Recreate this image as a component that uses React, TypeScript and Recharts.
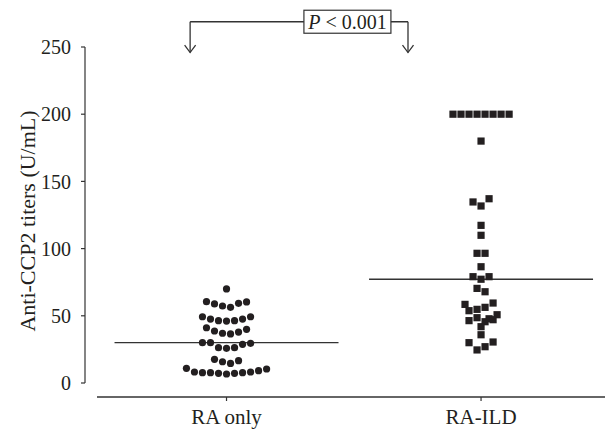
import React from 'react';
import {
  ScatterChart,
  Scatter,
  XAxis,
  YAxis,
  ReferenceLine,
  ReferenceDot,
  Label,
} from 'recharts';

// ---- Data ----
const categories = ['RA only', 'RA-ILD'];
const yTicks = [0, 50, 100, 150, 200, 250];

// Anti-CCP2 titers, RA only group (circles)
const raOnlyValues = [
  70,
  60.5, 58.8, 57.3, 56.3, 59.3, 60.3,
  49.3, 47.6, 46.4, 46.1, 46.4, 47.6, 49.3,
  41.1, 38.7, 37.0, 36.5, 37.9, 39.9,
  30.0, 30.0, 26.3, 25.8, 26.3, 28.8, 29.5,
  17.6, 15.8, 14.6, 16.6,
  10.9, 8.2, 7.7, 7.7, 7.2, 6.7, 7.2, 7.7, 8.2, 9.2, 10.4,
];
// horizontal scatter-dot slot of each point (beeswarm column)
const raOnlyJitter = [
  0,
  -2.5, -1.5, -0.5, 0.5, 1.5, 2.5,
  -3, -2, -1, 0, 1, 2, 3,
  -2.5, -1.5, -0.5, 0.5, 1.5, 2.5,
  -3, -2, -1, 0, 1, 2, 3,
  -1.5, -0.5, 0.5, 1.5,
  -5, -4, -3, -2, -1, 0, 1, 2, 3, 4, 5,
];

// Anti-CCP2 titers, RA-ILD group (squares)
const raIldValues = [
  200, 200, 200, 200, 200, 200, 200, 200,
  180,
  134.7, 131.7, 137.1,
  117.3,
  109.9,
  96.5, 96.5,
  86.5,
  79.1, 77.2, 79.1,
  70.4, 67.9,
  58.5, 59.5,
  53.8, 54.8, 56.3,
  50.8,
  46.4, 48.6, 45.6, 47.8, 47.1,
  41.9,
  35.9,
  30.0, 30.5,
  27.0,
  24.6,
];
const raIldJitter = [
  -3.5, -2.5, -1.5, -0.5, 0.5, 1.5, 2.5, 3.5,
  0,
  -1, 0, 1,
  0,
  0,
  -0.5, 0.5,
  0,
  -1, 0, 1,
  -0.5, 0.5,
  -2, 1.5,
  -1.5, -0.5, 0.5,
  2,
  -1.5, -0.5, 0.5, 1, 1.5,
  0,
  0,
  -1.5, 1.5,
  0.5,
  -0.5,
];

// significance annotation
const pLabel = '< 0.001';

// ---- layout constants (category units) ----
const SLOT = 0.0315;
const X_DOMAIN: [number, number] = [0.444, 2.487];
const MEDIAN_HALF = 0.44;
const BRACKET_Y = 268.8;
const ARROW_TIP_Y = 245.9;
const BRACKET_LEFT = 0.857;
const BRACKET_RIGHT = 1.713;
const P_BOX_X = 1.475;
const X_AXIS_Y = -10.4;
const X_AXIS_START = 0.491;

const INK = '#231f20';
const LINE = '#333333';
const FONT = '"Liberation Serif", "Times New Roman", Times, serif';

const median = (arr: number[]) => {
  const s = [...arr].sort((a, b) => a - b);
  const m = Math.floor(s.length / 2);
  return s.length % 2 ? s[m] : (s[m - 1] + s[m]) / 2;
};

const raOnlyData = raOnlyValues.map((v, i) => ({ x: 1 + raOnlyJitter[i] * SLOT, y: v }));
const raIldData = raIldValues.map((v, i) => ({ x: 2 + raIldJitter[i] * SLOT, y: v }));
const raOnlyMedian = median(raOnlyValues);
const raIldMedian = median(raIldValues);

const CircleShape = (props: any) => (
  <circle cx={props.cx} cy={props.cy} r={3.6} fill={INK} />
);
const SquareShape = (props: any) => (
  <rect x={props.cx - 3.6} y={props.cy - 3.6} width={7.2} height={7.2} fill={INK} />
);

const XTick = (props: any) => {
  const { x, y, payload } = props;
  return (
    <g>
      <line x1={x} x2={x} y1={y + 14} y2={y + 18} stroke={LINE} strokeWidth={1.2} />
      <text x={x} y={y + 41} textAnchor="middle" fontFamily={FONT} fontSize={21} fill={INK}>
        {categories[payload.value - 1]}
      </text>
    </g>
  );
};

const ArrowShape = (props: any) => {
  const { x1, y1, x2, y2 } = props;
  const tipY = Math.max(y1, y2);
  const x = x1;
  return (
    <g>
      <line x1={x1} y1={y1} x2={x2} y2={y2} stroke={LINE} strokeWidth={1.3} />
      <polyline
        points={`${x - 5.5},${tipY - 7.5} ${x},${tipY} ${x + 5.5},${tipY - 7.5}`}
        fill="none"
        stroke={LINE}
        strokeWidth={1.3}
      />
    </g>
  );
};

const PBoxShape = (props: any) => {
  const { cx, cy } = props;
  return (
    <g>
      <rect x={cx - 43.5} y={cy - 11.5} width={87} height={23} fill="#ffffff" stroke={LINE} strokeWidth={1.2} />
      <text x={cx} y={cy + 7} textAnchor="middle" fontFamily={FONT} fontSize={20} fill={INK}>
        <tspan fontStyle="italic">P</tspan> {pLabel}
      </text>
    </g>
  );
};

const YLabel = (props: any) => {
  const vb = props.viewBox || { x: 0, y: 47, width: 85, height: 336 };
  const x = vb.x + 35;
  const y = vb.y + vb.height / 2 + 6;
  return (
    <text
      x={x}
      y={y}
      transform={`rotate(-90, ${x}, ${y})`}
      textAnchor="middle"
      fontFamily={FONT}
      fontSize={22}
      fill={INK}
    >
      Anti-CCP2 titers (U/mL)
    </text>
  );
};

export default function App() {
  return (
    <div style={{ position: 'absolute', left: 0, top: 0, width: 605, height: 431, background: '#fff' }}>
      <ScatterChart width={605} height={431} margin={{ top: 47, right: 0, bottom: 0, left: 0 }}>
        <XAxis
          type="number"
          dataKey="x"
          domain={X_DOMAIN}
          ticks={[1, 2]}
          allowDataOverflow
          axisLine={false}
          tickLine={false}
          tickSize={0}
          tickMargin={0}
          height={48}
          tick={<XTick />}
          interval={0}
        />
        <YAxis
          type="number"
          dataKey="y"
          domain={[0, 250]}
          ticks={yTicks}
          allowDataOverflow
          width={85}
          axisLine={{ stroke: LINE, strokeWidth: 1.2 }}
          tickLine={{ stroke: LINE, strokeWidth: 1.2 }}
          tickSize={4}
          tickMargin={10}
          tick={{ fontFamily: FONT, fontSize: 20, fill: INK }}
          interval={0}
        >
          <Label content={<YLabel />} />
        </YAxis>

        {/* x axis line (offset below zero, Prism style) */}
        <ReferenceLine
          segment={[{ x: X_AXIS_START, y: X_AXIS_Y }, { x: X_DOMAIN[1], y: X_AXIS_Y }]}
          stroke={LINE}
          strokeWidth={1.3}
          ifOverflow="visible"
        />

        {/* medians */}
        <ReferenceLine
          segment={[{ x: 1 - MEDIAN_HALF, y: raOnlyMedian }, { x: 1 + MEDIAN_HALF, y: raOnlyMedian }]}
          stroke={LINE}
          strokeWidth={1.3}
          ifOverflow="visible"
        />
        <ReferenceLine
          segment={[{ x: 2 - MEDIAN_HALF, y: raIldMedian }, { x: 2 + MEDIAN_HALF, y: raIldMedian }]}
          stroke={LINE}
          strokeWidth={1.3}
          ifOverflow="visible"
        />

        <Scatter data={raOnlyData} shape={<CircleShape />} isAnimationActive={false} />
        <Scatter data={raIldData} shape={<SquareShape />} isAnimationActive={false} />

        {/* significance bracket */}
        <ReferenceLine
          segment={[{ x: BRACKET_LEFT, y: BRACKET_Y }, { x: BRACKET_RIGHT, y: BRACKET_Y }]}
          stroke={LINE}
          strokeWidth={1.3}
          ifOverflow="visible"
        />
        <ReferenceLine
          segment={[{ x: BRACKET_LEFT, y: BRACKET_Y }, { x: BRACKET_LEFT, y: ARROW_TIP_Y }]}
          shape={<ArrowShape />}
          ifOverflow="visible"
        />
        <ReferenceLine
          segment={[{ x: BRACKET_RIGHT, y: BRACKET_Y }, { x: BRACKET_RIGHT, y: ARROW_TIP_Y }]}
          shape={<ArrowShape />}
          ifOverflow="visible"
        />
        <ReferenceDot x={P_BOX_X} y={BRACKET_Y} shape={<PBoxShape />} ifOverflow="visible" />
      </ScatterChart>
    </div>
  );
}
